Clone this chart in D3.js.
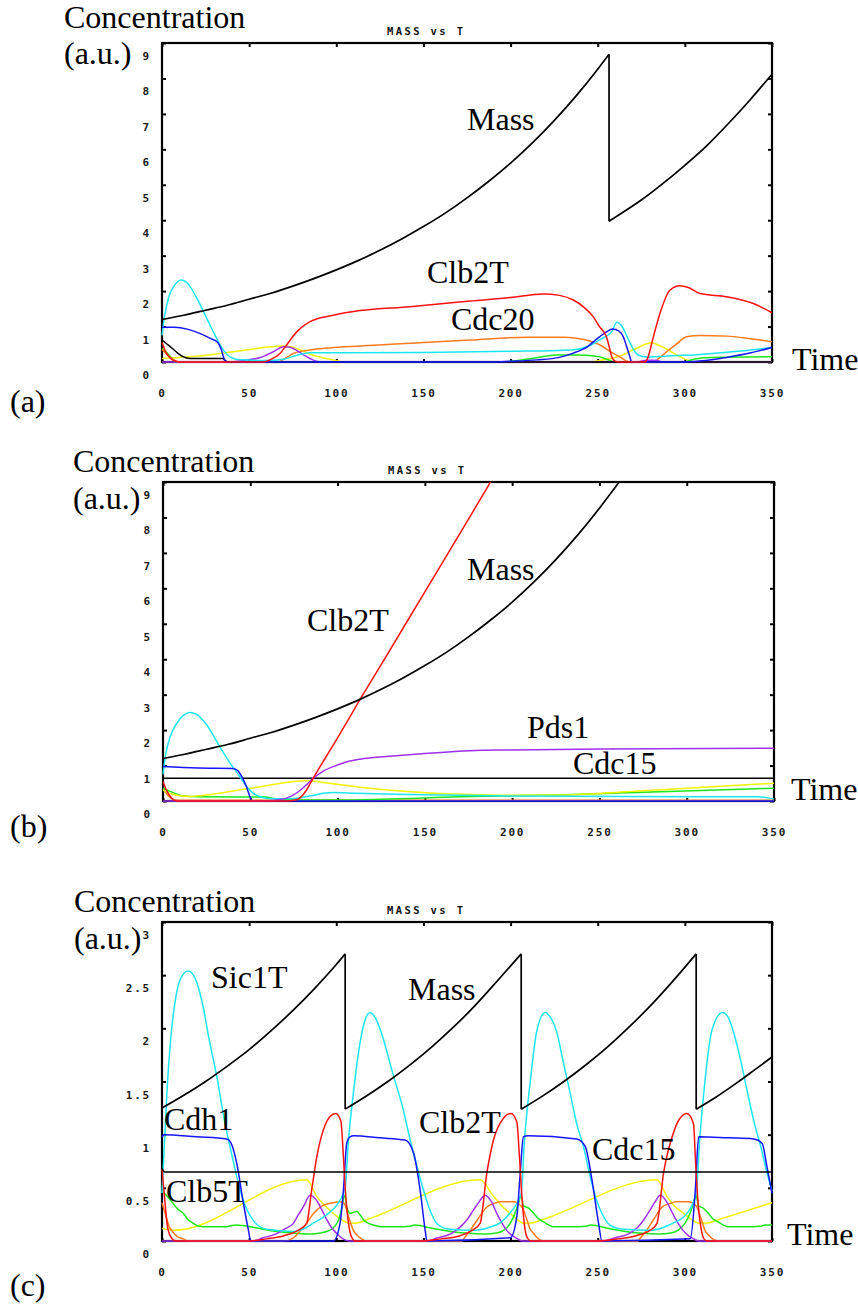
<!DOCTYPE html>
<html>
<head>
<meta charset="utf-8">
<script src="https://cdn.jsdelivr.net/npm/d3@7"></script>
<style>
  body { margin: 0; background: #fff; }
  svg { display: block; }
  .tick text { font-family: "DejaVu Sans Mono", monospace; font-weight: bold; font-size: 11px; letter-spacing: 1.8px; fill: #1a1a1a; }
  .lbl { font-family: "Liberation Serif", "Times New Roman", serif; font-size: 32px; fill: #000; }
  .ttl { font-family: "DejaVu Sans Mono", monospace; font-weight: bold; font-size: 10.5px; letter-spacing: 2.4px; fill: #111; }
</style>
</head>
<body>
<svg id="chart" width="858" height="1304"></svg>
<script>
// ---------- shared axis values ----------
const xTicks = [0, 50, 100, 150, 200, 250, 300, 350];
const yTicksWide = [0, 1, 2, 3, 4, 5, 6, 7, 8, 9];
const yTicksNarrow = [0, 0.5, 1, 1.5, 2, 2.5, 3];
const plotTitle = "MASS vs T";

// ---------- (a) wild type, two divisions ----------
const massA = [[0,1.2],[12.5,1.32],[25,1.46],[37.5,1.6],[50,1.77],[62.5,1.94],[75,2.14],[87.5,2.36],[100,2.6],[112.5,2.86],[125,3.15],
  [137.5,3.47],[150,3.82],[162.5,4.2],[175,4.63],[187.5,5.1],[200,5.61],[212.5,6.18],[225,6.81],[237.5,7.5],[250,8.26],[256.5,8.68],
  [256.5,3.97],[262.5,4.16],[275,4.57],[287.5,5.04],[300,5.55],[312.5,6.1],[325,6.73],[337.5,7.4],[350,8.12]];
const sic1A = [[0,0.75],[1.5,1.3],[4,1.85],[7,2.15],[11,2.31],[15,2.2],[20,1.8],[25,1.3],[30,0.8],[35,0.35],[40,0.12],[45,0.06],[60,0.04],[70,0.08],
  [78,0.2],[85,0.26],[100,0.26],[150,0.27],[200,0.3],[235,0.34],[245,0.45],[252,0.65],[258,0.85],[261,1.12],[264,1.0],[267,0.7],[270,0.4],
  [273,0.2],[278,0.14],[295,0.18],[305,0.2],[330,0.3],[350,0.41]];
const cdh1A = [[0,0.98],[7,0.98],[15,0.92],[22,0.8],[28,0.66],[32,0.55],[34,0.35],[36,0.05],[37.5,0],[190,0],[200,0.02],[215,0.06],[228,0.13],
  [236,0.25],[244,0.43],[251,0.71],[255,0.85],[258.5,0.93],[262,0.88],[264.7,0.71],[266.5,0.45],[268.5,0.14],[269.5,0],[300,0],[312,0.04],
  [324,0.13],[338,0.26],[350,0.41]];
const clb2A = [[0,0.55],[2,0.3],[5,0.1],[8,0.02],[10,0],[58,0],[62,0.06],[67.7,0.24],[71.5,0.48],[77.3,0.85],[84.9,1.14],[98.3,1.32],[113.6,1.45],
  [142.3,1.56],[176.7,1.72],[200,1.82],[218.8,1.92],[228,1.88],[236,1.75],[242,1.55],[247.4,1.28],[251,1.0],[255,0.71],[257,0.35],[258,0.15],
  [260,0.02],[262,0],[277,0],[279,0.15],[281,0.53],[285.7,1.37],[291.5,2.03],[297.2,2.15],[302,2.1],[308.7,1.93],[324,1.84],[339.3,1.65],[350,1.39]];
const cdc20A = [[0,0.35],[3,0.2],[6,0.08],[10,0],[66,0],[70,0.08],[75.3,0.24],[84.9,0.34],[113.6,0.45],[150,0.55],[176.7,0.62],[209.2,0.7],
  [230,0.7],[237.9,0.67],[245,0.6],[251.3,0.48],[257,0.3],[262.8,0.14],[266,0.04],[268,0],[282,0],[285,0.1],[289.5,0.29],[295,0.5],[301,0.71],
  [308.7,0.75],[324,0.73],[340,0.64],[350,0.57]];
const yellowA = [[0,0.1],[14,0.14],[40,0.28],[69.6,0.45],[75,0.42],[80,0.33],[85,0.22],[92,0.12],[98,0.06],[105,0],[245,0],[252,0.05],
  [262.8,0.17],[272,0.38],[281,0.54],[286,0.45],[295.3,0.2],[300,0.08],[304,0.02],[308,0],[350,0]];
const greenA = [[0,0.38],[3,0.25],[6,0.08],[8,0],[195,0],[205,0.05],[215,0.12],[226,0.2],[240,0.2],[251,0.15],[256,0.06],[260,0],[300,0],
  [305,0.08],[315,0.13],[350,0.15]];
const pds1A = [[0,0],[38,0],[47.6,0.05],[56,0.12],[63.9,0.29],[69.6,0.43],[72.5,0.42],[75.3,0.38],[80,0.24],[84.9,0.1],[88,0.03],[91,0],
  [272,0],[278,0.05],[283,0.05],[288,0],[350,0]];
const cdc14A = [[0,0.62],[3,0.5],[6,0.38],[9,0.25],[12,0.15],[16,0.1],[35,0.1],[36.5,0.03],[38,0],[350,0]];

// ---------- (b) cells arrest with Pds1 stable ----------
const massB = [[0,1.2],[12.5,1.32],[25,1.46],[37.5,1.6],[50,1.77],[62.5,1.94],[75,2.14],[87.5,2.36],[100,2.6],[112.5,2.86],[125,3.15],
  [137.5,3.47],[150,3.82],[162.5,4.2],[175,4.63],[187.5,5.1],[200,5.61],[212.5,6.18],[225,6.81],[237.5,7.5],[250,8.26],[256.5,8.68],
  [262,9.05],[270,9.62]];
const clb2B = [[0,0.55],[2,0.3],[5,0.08],[8,0],[70,0],[75,0.02],[78.3,0.08],[82.2,0.31],[86,0.64],[100,1.78],[112.7,2.85],[125,3.85],
  [150,5.9],[175,7.95],[190,9.2]];
const sic1B = [[0,0.75],[1.5,1.3],[4,1.8],[8,2.2],[12,2.43],[15.3,2.5],[19,2.45],[25,2.15],[32.5,1.53],[38,1.1],[44,0.69],[48,0.4],
  [51.6,0.22],[57,0.1],[63,0.06],[75,0.07],[85,0.15],[92,0.22],[97.5,0.24],[110,0.22],[140,0.18],[200,0.14],[300,0.12],[340,0.12],[350,0.06]];
const cdh1B = [[0,0.97],[20,0.93],[40,0.92],[43,0.85],[45,0.7],[47.8,0.4],[50,0.1],[51,0],[350,0]];
const cdc15B = [[0,0.64],[350,0.64]];
const pds1B = [[0,0],[58,0],[64,0.02],[70.7,0.08],[75,0.18],[78.3,0.29],[82,0.45],[86.1,0.64],[92,0.85],[97.5,0.97],[105,1.1],[112.7,1.18],
  [131.8,1.27],[150,1.34],[175.8,1.42],[200,1.44],[250,1.47],[350,1.49]];
const yellowB = [[0,0.3],[5,0.2],[15,0.13],[50,0.36],[82.2,0.57],[95,0.5],[112.7,0.39],[140,0.27],[175.8,0.18],[200,0.16],[230,0.17],
  [267.5,0.27],[300,0.36],[350,0.5]];
const greenB = [[0,0.36],[5,0.25],[12,0.14],[20,0.12],[58,0.11],[66,0.05],[75,0.03],[100,0.03],[125,0.05],[170,0.12],[227,0.17],[285,0.26],[350,0.36]];
const cdc20B = [[0,0.35],[3,0.15],[7,0.03],[12,0.02],[350,0.02]];

// ---------- (c) steady oscillation ----------
const massC = [[0,1.25],[12.5,1.37],[25,1.5],[37.5,1.645],[50,1.8],[62.5,1.976],[75,2.166],[87.5,2.374],[100,2.6],[105.1,2.7],
  [105.1,1.24],[117.5,1.366],[130,1.505],[142.5,1.659],[155,1.828],[167.5,2.015],[180,2.221],[193,2.457],[206.1,2.7],
  [206.1,1.24],[218.5,1.365],[231,1.505],[243.5,1.66],[256,1.83],[268.5,2.02],[281,2.225],[294,2.46],[306.5,2.7],
  [306.5,1.24],[318,1.355],[330,1.489],[340,1.609],[350,1.73]];
const sic1C = [[0,0.45],[1.5,0.95],[3,1.45],[5,1.9],[8,2.3],[11,2.48],[15.1,2.54],[19,2.47],[23,2.25],[27,1.9],[31.4,1.55],[36,1.12],
  [40.9,0.75],[44.5,0.5],[48.6,0.3],[53,0.18],[60,0.11],[75.4,0.09],[82,0.12],[87,0.17],[93,0.23],[98.3,0.3],[102,0.38],[105.1,0.5],
  [107,0.95],[109.8,1.39],[113,1.8],[116,2.05],[119.4,2.15],[123,2.08],[127,1.9],[132,1.6],[138.5,1.23],[142.4,0.95],[146,0.72],[150,0.48],
  [154,0.28],[158,0.16],[165,0.11],[178,0.1],[188,0.13],[194,0.17],[200,0.27],[206.1,0.45],
  [208,0.95],[211.3,1.5],[215.1,1.98],[219.9,2.15],[223,2.1],[226.6,1.96],[230,1.7],[234.2,1.39],[238,1.1],[241.8,0.89],[245.5,0.62],
  [249,0.4],[253,0.24],[257,0.15],[265,0.11],[280,0.1],[288,0.13],[293.5,0.17],[301.2,0.26],[306.5,0.45],
  [308.5,0.95],[311.5,1.5],[315.5,1.98],[321.7,2.15],[325,2.1],[328,1.96],[332,1.7],[336,1.39],[340,1.1],[344,0.86],[347,0.65],[350,0.47]];
const cdh1C = [[0,0.98],[1,1.0],[20,0.98],[37.1,0.96],[39.6,0.92],[42.9,0.73],[46.7,0.355],[49.6,0.1],[50.9,0],[98.4,0],[102.2,0.17],
  [104.1,0.48],[106,0.92],[107.9,0.98],[110,0.99],[125,0.97],[139.5,0.95],[144.3,0.83],[148.1,0.48],[151,0.1],[152,0],[199.8,0.03],
  [203.6,0.23],[205.5,0.63],[207.4,0.98],[210,0.99],[238,0.96],[242.8,0.89],[246.7,0.575],[250.5,0.166],[252.4,0],[303.1,0.02],[306,0.48],
  [307.9,0.98],[325,0.97],[339.5,0.96],[344.3,0.92],[347.1,0.7],[350,0.45]];
const clb2C = [[0,0.68],[1.5,0.4],[3,0.15],[5,0.04],[8,0],[50,0],[60,0.02],[70,0.05],[78,0.1],[83,0.166],[85.9,0.48],[88.8,0.79],[92.6,1.045],
  [96.4,1.17],[99.7,1.2],[102.6,1.13],[104.1,0.79],[105.2,0.48],[107,0.166],[109,0.03],[111,0],[150,0],[160,0.02],[171,0.05],[178,0.1],
  [182.5,0.166],[186.4,0.64],[190.2,0.95],[195.9,1.155],[200.2,1.2],[203.6,1.12],[205.1,0.79],[206.5,0.42],[208.4,0.1],[210,0.02],[212,0],
  [250,0],[262,0.02],[272,0.05],[280,0.1],[284,0.166],[287.8,0.64],[293.5,1.02],[297,1.15],[301.2,1.2],[305,1.1],[306,0.79],[307.3,0.42],
  [309.5,0.1],[311,0.02],[313,0],[350,0]];
const pds1C = [[0,0],[52,0],[58,0.03],[65.8,0.07],[70,0.11],[75.4,0.166],[78,0.24],[81.1,0.32],[85,0.43],[88.8,0.38],[91.5,0.3],[94.5,0.2],
  [97.5,0.12],[100.3,0.07],[103,0.03],[105,0.01],[107,0],[152,0],[158,0.03],[166,0.07],[171,0.13],[175,0.2],[178.7,0.29],[182,0.37],
  [185.4,0.43],[189,0.37],[192.1,0.26],[195,0.17],[197.8,0.1],[201,0.05],[204,0.02],[207,0],[253,0],[260,0.03],[268,0.07],[273,0.13],
  [276.5,0.2],[280,0.29],[283,0.37],[285.9,0.43],[289.5,0.37],[293,0.26],[296,0.17],[299,0.1],[302,0.05],[305,0.02],[308,0],[350,0]];
const cdc20C = [[0,0.36],[2,0.25],[4,0.14],[6.5,0.08],[9,0.04],[12,0.02],[15,0],[70,0],[75.4,0.03],[79,0.09],[83,0.166],[86,0.24],[88.8,0.29],
  [92,0.33],[96.4,0.355],[102.2,0.37],[104.7,0.35],[107,0.23],[109.8,0.1],[113.7,0.03],[117,0],[172,0],[174,0.04],[176.8,0.1],[181,0.2],
  [186.4,0.32],[190,0.35],[194,0.37],[201.7,0.37],[206.5,0.32],[209.4,0.2],[211,0.12],[213.2,0.07],[216,0.02],[219,0],[273,0],[275,0.04],
  [278,0.1],[282,0.2],[287,0.32],[291,0.35],[295,0.37],[302,0.37],[306.5,0.33],[309.5,0.2],[311.5,0.1],[314,0.05],[317,0.01],[320,0],[350,0]];
const greenC = [[0,0.47],[3,0.42],[6.5,0.35],[9,0.3],[12.2,0.26],[15,0.2],[18,0.166],[21,0.14],[23.7,0.135],[30,0.133],[37.1,0.135],[40,0.145],
  [42.9,0.15],[46,0.145],[50.6,0.135],[58,0.11],[65.8,0.09],[75,0.075],[85,0.066],[91,0.075],[94.5,0.09],[98,0.12],[100.3,0.166],[102,0.23],
  [103.2,0.32],[105.1,0.43],[106,0.32],[107.9,0.26],[110,0.27],[111.8,0.28],[113.5,0.25],[115.6,0.2],[118,0.17],[121.3,0.15],[126,0.135],
  [135,0.133],[142,0.138],[145,0.15],[148,0.145],[152,0.13],[160,0.105],[170,0.08],[185,0.066],[192,0.075],[196,0.1],[199.8,0.166],
  [202.5,0.26],[204.6,0.36],[206.1,0.43],[207.4,0.33],[210.3,0.31],[213.2,0.26],[216,0.21],[218.9,0.18],[224.6,0.135],[235,0.133],
  [243,0.138],[246,0.15],[249,0.145],[253,0.13],[260,0.105],[270,0.08],[285,0.066],[292,0.075],[296,0.1],[300,0.166],[303,0.26],[305,0.36],
  [306.5,0.43],[307.8,0.33],[310.5,0.31],[313.5,0.26],[316,0.21],[319,0.18],[325,0.135],[335,0.133],[343,0.138],[346,0.15],[350,0.15]];
const yellowC = [[0,0.12],[6.5,0.1],[83,0.575],[88.8,0.42],[93,0.34],[98.3,0.26],[103,0.2],[107.9,0.166],[112,0.17],[117.5,0.2],[182.5,0.575],
  [190.2,0.42],[195,0.33],[199.8,0.26],[204,0.2],[207.4,0.166],[212,0.17],[218,0.2],[284,0.575],[289.7,0.42],[294,0.33],[299.3,0.26],[304,0.2],
  [308.8,0.166],[313,0.17],[319,0.2],[350,0.36]];
const cdc15C = [[0,0.68],[1.5,0.65],[350,0.65]];

// ---------- colours ----------
const col = {
  mass: "#000000", sic1: "#19e6f0", cdh1: "#1515ff", clb2: "#ff1010", cdc20: "#ff7a1c",
  yellow: "#f2f200", green: "#18e818", pds1: "#a030f0", black: "#000000"
};

// ---------- panel layout ----------
const panels = [
  { id: "a", left: 162, right: 772, top: 43, bottom: 362, ymax: 9, yTicks: yTicksWide, titleX: 387,
    series: [
      { d: yellowA, c: col.yellow }, { d: greenA, c: col.green }, { d: cdc20A, c: col.cdc20 }, { d: pds1A, c: col.pds1 },
      { d: cdc14A, c: col.black }, { d: sic1A, c: col.sic1 }, { d: cdh1A, c: col.cdh1 }, { d: clb2A, c: col.clb2 },
      { d: massA, c: col.mass, w: 1.7 }
    ],
    labels: [
      { t: "Concentration", x: 64, y: 28 }, { t: "(a.u.)", x: 64, y: 64 }, { t: "(a)", x: 10, y: 412 },
      { t: "Mass", x: 467, y: 130 }, { t: "Clb2T", x: 427, y: 283 }, { t: "Cdc20", x: 451, y: 330 }, { t: "Time", x: 792, y: 370 }
    ] },
  { id: "b", left: 163, right: 774, top: 482, bottom: 801, ymax: 9, yTicks: yTicksWide, titleX: 388,
    series: [
      { d: cdc20B, c: col.cdc20 }, { d: greenB, c: col.green }, { d: yellowB, c: col.yellow }, { d: cdc15B, c: col.black },
      { d: sic1B, c: col.sic1 }, { d: cdh1B, c: col.cdh1 }, { d: pds1B, c: col.pds1 }, { d: clb2B, c: col.clb2 },
      { d: massB, c: col.mass, w: 1.7 }
    ],
    labels: [
      { t: "Concentration", x: 73, y: 472 }, { t: "(a.u.)", x: 73, y: 509 }, { t: "(b)", x: 10, y: 837 },
      { t: "Clb2T", x: 307, y: 631 }, { t: "Mass", x: 467, y: 580 }, { t: "Pds1", x: 527, y: 738 }, { t: "Cdc15", x: 573, y: 774 },
      { t: "Time", x: 791, y: 800 }
    ] },
  { id: "c", left: 162, right: 772, top: 922, bottom: 1241, ymax: 3, yTicks: yTicksNarrow, titleX: 387,
    series: [
      { d: yellowC, c: col.yellow }, { d: greenC, c: col.green }, { d: cdc20C, c: col.cdc20 }, { d: pds1C, c: col.pds1 },
      { d: sic1C, c: col.sic1 }, { d: cdh1C, c: col.cdh1 }, { d: clb2C, c: col.clb2 }, { d: cdc15C, c: col.black },
      { d: massC, c: col.mass, w: 1.7 }
    ],
    labels: [
      { t: "Concentration", x: 74, y: 912 }, { t: "(a.u.)", x: 74, y: 949 }, { t: "(c)", x: 10, y: 1296 },
      { t: "Sic1T", x: 211, y: 988 }, { t: "Mass", x: 408, y: 1000 }, { t: "Cdh1", x: 164, y: 1130 }, { t: "Clb5T", x: 166, y: 1202 },
      { t: "Clb2T", x: 419, y: 1133 }, { t: "Cdc15", x: 592, y: 1160 }, { t: "Time", x: 787, y: 1245 }
    ] }
];

const svg = d3.select("#chart");
const fmt = d3.format("~g");

// splits a series at vertical jumps (two samples sharing the same time)
function runsOf(data) {
  const runs = [[]];
  data.forEach((d, i) => {
    if (i > 0 && d[0] === data[i - 1][0]) runs.push([]);
    runs[runs.length - 1].push(d);
  });
  return runs;
}

panels.forEach(p => {
  const x = d3.scaleLinear().domain([0, 350]).range([p.left, p.right]);
  const y = d3.scaleLinear().domain([0, p.ymax]).range([p.bottom, p.top]);
  const g = svg.append("g");

  // frame
  g.append("rect")
    .attr("x", p.left).attr("y", p.top)
    .attr("width", p.right - p.left).attr("height", p.bottom - p.top)
    .attr("fill", "none").attr("stroke", "#000").attr("stroke-width", 2.2);

  // left axis: inward ticks, labels sitting below their tick
  const ax = g.append("g").attr("transform", `translate(${p.left},0)`)
    .call(d3.axisLeft(y).tickValues(p.yTicks).tickSize(-4).tickPadding(11).tickFormat(fmt));
  ax.select(".domain").remove();
  ax.selectAll(".tick text").attr("y", 13);

  // right axis: inward ticks only
  const ar = g.append("g").attr("transform", `translate(${p.right},0)`)
    .call(d3.axisRight(y).tickValues(p.yTicks).tickSize(-4).tickFormat(""));
  ar.select(".domain").remove();

  // bottom axis
  const ab = g.append("g").attr("transform", `translate(0,${p.bottom})`)
    .call(d3.axisBottom(x).tickValues(xTicks).tickSize(-3).tickPadding(27).tickFormat(fmt));
  ab.select(".domain").remove();

  // top axis: inward ticks only
  const at = g.append("g").attr("transform", `translate(0,${p.top})`)
    .call(d3.axisTop(x).tickValues(xTicks).tickSize(-4).tickFormat(""));
  at.select(".domain").remove();

  g.selectAll(".tick line").attr("stroke", "#000").attr("stroke-width", 2);

  // title
  g.append("text").attr("class", "ttl").attr("x", p.titleX).attr("y", p.top - 8).text(plotTitle);

  // curves
  const clipId = "clip-" + p.id;
  svg.append("clipPath").attr("id", clipId).append("rect")
    .attr("x", p.left - 2).attr("y", p.top)
    .attr("width", p.right - p.left + 4).attr("height", p.bottom - p.top + 2);
  const plot = g.append("g").attr("clip-path", `url(#${clipId})`);
  const line = d3.line().x(d => x(d[0])).y(d => y(d[1])).curve(d3.curveMonotoneX);

  p.series.forEach(s => {
    const w = s.w || 1.5;
    runsOf(s.d).forEach(run => {
      plot.append("path").attr("d", line(run))
        .attr("fill", "none").attr("stroke", s.c).attr("stroke-width", w).attr("stroke-linejoin", "round");
    });
    s.d.forEach((d, i) => {
      if (i > 0 && d[0] === s.d[i - 1][0]) {
        plot.append("line")
          .attr("x1", x(d[0])).attr("x2", x(d[0]))
          .attr("y1", y(s.d[i - 1][1])).attr("y2", y(d[1]))
          .attr("stroke", s.c).attr("stroke-width", w);
      }
    });
  });

  // annotations
  p.labels.forEach(l => {
    g.append("text").attr("class", "lbl").attr("x", l.x).attr("y", l.y).text(l.t);
  });
});
</script>
</body>
</html>
